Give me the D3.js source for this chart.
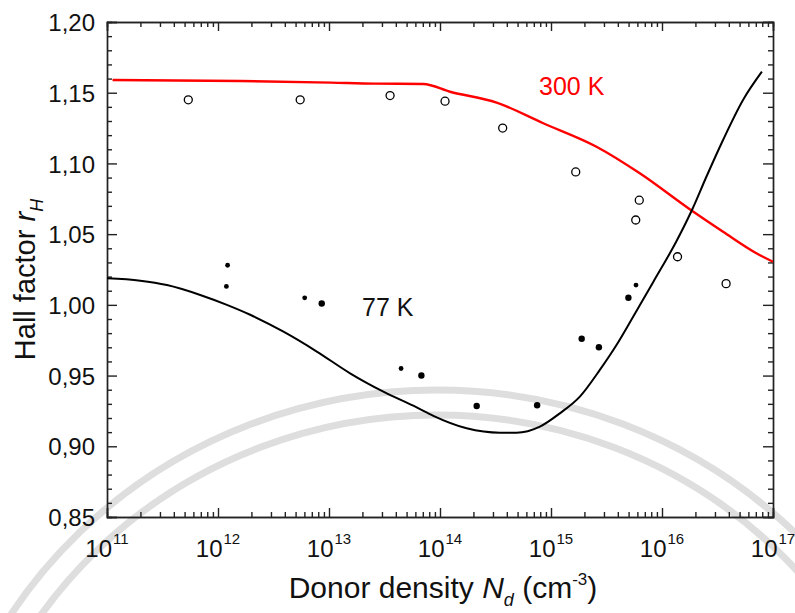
<!DOCTYPE html>
<html lang="en">
<head>
<meta charset="utf-8">
<title>Hall factor</title>
<script src="https://cdn.jsdelivr.net/npm/d3@7"></script>
<style>
  body { margin: 0; background: #fff; }
  text { font-family: "Liberation Sans", Arial, sans-serif; fill: #111; }
  .axis path, .axis line { stroke: #222; stroke-width: 1.4px; }
</style>
</head>
<body>
<div id="chart"></div>
<script>
// ---- data ----
// 300 K measurements (open circles)
var nd300 = [5.4e11, 5.5e12, 3.55e13, 1.11e14, 3.67e14, 1.67e15, 6.24e15, 5.8e15, 1.38e16, 3.78e16];
var rh300 = [1.145, 1.145, 1.148, 1.144, 1.125, 1.094, 1.074, 1.060, 1.034, 1.015];

// 77 K measurements (filled dots), small dots
var nd77a = [1.22e12, 1.19e12, 6.04e12, 4.46e13, 5.83e15];
var rh77a = [1.028, 1.013, 1.005, 0.955, 1.014];
// 77 K measurements, larger dots
var nd77b = [8.6e12, 6.8e13, 2.14e14, 7.5e14, 1.89e15, 2.7e15, 4.98e15];
var rh77b = [1.001, 0.950, 0.9285, 0.929, 0.976, 0.970, 1.005];

// theory curve 300 K (log10 Nd, rH)
var fit300x = [11.05, 12.2, 13.02, 13.41, 13.85, 14.09, 14.51, 14.93, 15.41, 15.8, 16.25, 16.55, 16.85, 17.0];
var fit300y = [1.159, 1.1583, 1.1571, 1.1564, 1.1562, 1.1507, 1.143, 1.1284, 1.1118, 1.093, 1.0676, 1.0517, 1.0365, 1.0305];

// theory curve 77 K (log10 Nd, rH)
var fit77x = [11.0, 11.3, 11.54, 11.84, 12.08, 12.29, 12.59, 12.89, 13.19, 13.49, 13.79, 13.94, 14.24, 14.54, 14.69, 14.9,
              15.08, 15.26, 15.44, 15.59, 15.74, 15.92, 16.13, 16.27, 16.4, 16.55, 16.73, 16.9];
var fit77y = [1.0188, 1.0171, 1.014, 1.007, 1.0, 0.993, 0.981, 0.967, 0.9516, 0.9386, 0.9275, 0.9215, 0.9127, 0.9096, 0.9096, 0.9139,
              0.9233, 0.9351, 0.954, 0.9716, 0.9916, 1.016, 1.045, 1.0671, 1.0906, 1.1166, 1.1449, 1.1649];

var yTicks = [0.85, 0.90, 0.95, 1.00, 1.05, 1.10, 1.15, 1.20];
var xExponents = [11, 12, 13, 14, 15, 16, 17];

// ---- layout ----
var W = 795, H = 613;
var margin = {top: 22, right: 22, bottom: 96, left: 107},
    width = W - margin.left - margin.right,
    height = H - margin.top - margin.bottom;

var svg = d3.select("#chart").append("svg")
    .attr("width", W)
    .attr("height", H);

svg.append("rect").attr("width", W).attr("height", H).attr("fill", "#fff");

// faint watermark arcs behind the plot
svg.append("g")
    .selectAll("ellipse")
    .data([[505, 485], [480, 460]])
    .enter().append("ellipse")
    .attr("cx", 437).attr("cy", 875)
    .attr("rx", function(d) { return d[0]; })
    .attr("ry", function(d) { return d[1]; })
    .attr("fill", "none")
    .attr("stroke", "#dedede")
    .attr("stroke-width", 7);

var g = svg.append("g")
    .attr("transform", "translate(" + margin.left + "," + margin.top + ")");

var x = d3.scaleLog().domain([1e11, 1e17]).range([0, width]);
var y = d3.scaleLinear().domain([0.85, 1.20]).range([height, 0]);

// minor ticks
var xMinor = [];
for (var e = 11; e < 17; e++) {
  for (var m = 2; m <= 9; m++) xMinor.push(m * Math.pow(10, e));
}
var yMinor = d3.range(85, 121).map(function(v) { return v / 100; })
    .filter(function(v) { return Math.round(v * 100) % 5 !== 0; });
var xMajor = xExponents.map(function(p) { return Math.pow(10, p); });

function noLabel() { return ""; }

// bottom
g.append("g").attr("class", "axis").attr("transform", "translate(0," + height + ")")
    .call(d3.axisBottom(x).tickValues(xMajor).tickSize(-9).tickFormat(noLabel));
g.append("g").attr("class", "axis").attr("transform", "translate(0," + height + ")")
    .call(d3.axisBottom(x).tickValues(xMinor).tickSize(-5).tickFormat(noLabel));
// top
g.append("g").attr("class", "axis")
    .call(d3.axisTop(x).tickValues(xMajor).tickSize(-9).tickFormat(noLabel));
g.append("g").attr("class", "axis")
    .call(d3.axisTop(x).tickValues(xMinor).tickSize(-5).tickFormat(noLabel));
// left
g.append("g").attr("class", "axis")
    .call(d3.axisLeft(y).tickValues(yTicks).tickSize(-10).tickPadding(12)
      .tickFormat(function(d) { return d3.format(".2f")(d).replace(".", ","); }))
    .selectAll("text").style("font-size", "24px").attr("dy", "0.36em");
g.append("g").attr("class", "axis")
    .call(d3.axisLeft(y).tickValues(yMinor).tickSize(-5).tickFormat(noLabel));
// right
g.append("g").attr("class", "axis").attr("transform", "translate(" + width + ",0)")
    .call(d3.axisRight(y).tickValues(yTicks).tickSize(-10).tickFormat(noLabel));
g.append("g").attr("class", "axis").attr("transform", "translate(" + width + ",0)")
    .call(d3.axisRight(y).tickValues(yMinor).tickSize(-5).tickFormat(noLabel));

g.selectAll(".axis .domain").attr("stroke", "#222");

// x tick labels: 10 with superscript exponent, centred as a group
var xl = g.append("g").selectAll(".xlab")
    .data(xExponents)
    .enter().append("text")
    .attr("x", function(d) { return x(Math.pow(10, d)); })
    .attr("y", height + 40)
    .attr("text-anchor", "middle")
    .style("font-size", "24px");
xl.append("tspan").text("10");
xl.append("tspan")
    .attr("dy", -13)
    .attr("dx", 1)
    .style("font-size", "15px")
    .text(function(d) { return d; });

// clip
g.append("clipPath").attr("id", "plotclip")
  .append("rect").attr("width", width).attr("height", height);

var line = d3.line()
    .x(function(d) { return x(Math.pow(10, d[0])); })
    .y(function(d) { return y(d[1]); })
    .curve(d3.curveMonotoneX);

g.append("path")
    .datum(d3.zip(fit300x, fit300y))
    .attr("clip-path", "url(#plotclip)")
    .attr("d", line)
    .attr("fill", "none")
    .attr("stroke", "#ff0000")
    .attr("stroke-width", 2.4);

g.append("path")
    .datum(d3.zip(fit77x, fit77y))
    .attr("clip-path", "url(#plotclip)")
    .attr("d", line)
    .attr("fill", "none")
    .attr("stroke", "#000")
    .attr("stroke-width", 2);

// markers
g.selectAll(".open")
    .data(d3.zip(nd300, rh300))
    .enter().append("circle")
    .attr("cx", function(d) { return x(d[0]); })
    .attr("cy", function(d) { return y(d[1]); })
    .attr("r", 4)
    .attr("fill", "#fff")
    .attr("stroke", "#000")
    .attr("stroke-width", 1.3);

g.selectAll(".dotA")
    .data(d3.zip(nd77a, rh77a))
    .enter().append("circle")
    .attr("cx", function(d) { return x(d[0]); })
    .attr("cy", function(d) { return y(d[1]); })
    .attr("r", 2.4)
    .attr("fill", "#000");

g.selectAll(".dotB")
    .data(d3.zip(nd77b, rh77b))
    .enter().append("circle")
    .attr("cx", function(d) { return x(d[0]); })
    .attr("cy", function(d) { return y(d[1]); })
    .attr("r", 3.2)
    .attr("fill", "#000");

// curve labels
g.append("text")
    .attr("x", 432).attr("y", 73)
    .style("font-size", "25px")
    .style("fill", "#ff0000")
    .text("300 K");
g.append("text")
    .attr("x", 255).attr("y", 294)
    .style("font-size", "25px")
    .text("77 K");

// axis titles
var xt = svg.append("text")
    .attr("x", margin.left + width / 2 + 3)
    .attr("y", 598)
    .attr("text-anchor", "middle")
    .style("font-size", "30px");
xt.append("tspan").text("Donor density ");
xt.append("tspan").style("font-style", "italic").text("N");
xt.append("tspan").style("font-style", "italic").style("font-size", "18px").attr("dy", 8).text("d");
xt.append("tspan").attr("dy", -8).text(" (cm");
xt.append("tspan").style("font-size", "17px").attr("dy", -13).text("-3");
xt.append("tspan").attr("dy", 13).text(")");

var yt = svg.append("text")
    .attr("transform", "translate(35," + (margin.top + height / 2 + 10) + ") rotate(-90)")
    .attr("text-anchor", "middle")
    .style("font-size", "29px");
yt.append("tspan").text("Hall factor ");
yt.append("tspan").style("font-style", "italic").text("r");
yt.append("tspan").style("font-style", "italic").style("font-size", "18px").attr("dy", 8).text("H");
</script>
</body>
</html>
